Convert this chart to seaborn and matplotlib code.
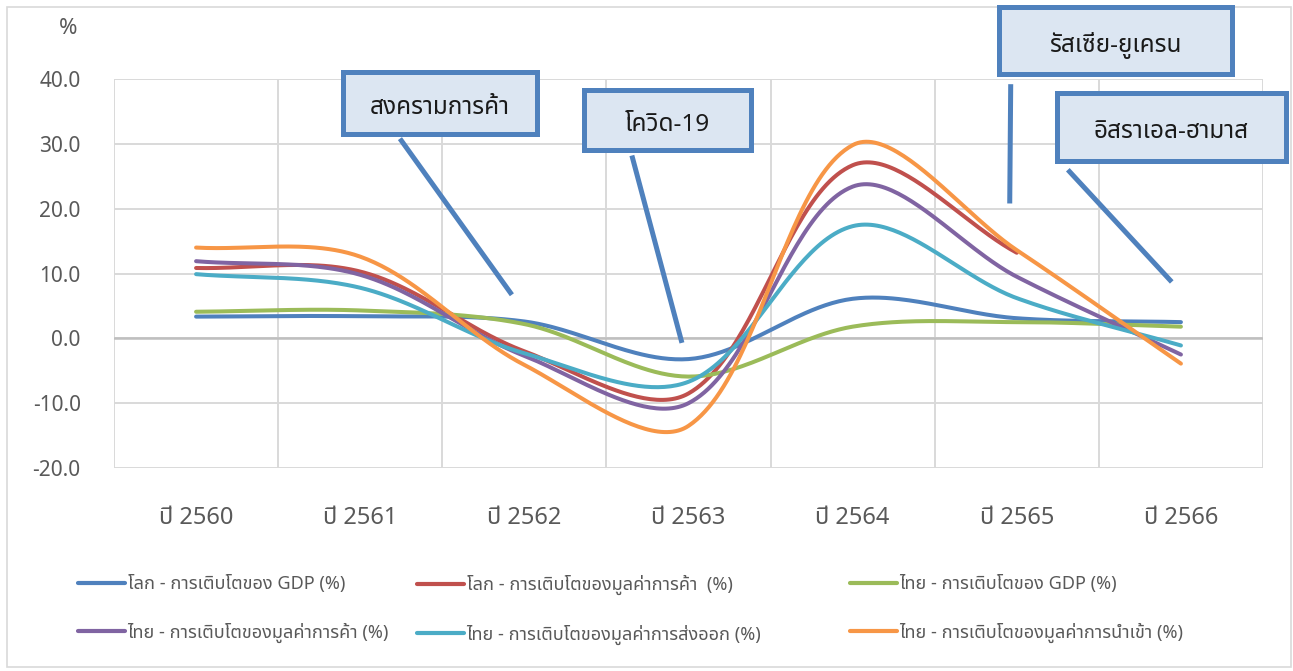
import numpy as np
import pandas as pd
import matplotlib
matplotlib.use("Agg")
import matplotlib.pyplot as plt
import seaborn as sns
from matplotlib.lines import Line2D
from matplotlib.patches import Rectangle

# ---------------- data ----------------
years = ["ปี 2560", "ปี 2561", "ปี 2562", "ปี 2563", "ปี 2564", "ปี 2565", "ปี 2566"]
world_gdp = [3.35, 3.4, 2.6, -3.2, 6.1, 3.1, 2.5]
world_trade = [10.85, 10.3, -2.0, -8.5, 26.7, 13.2, np.nan]
thai_gdp = [4.1, 4.3, 2.2, -5.9, 1.8, 2.5, 1.8]
thai_trade = [11.9, 9.8, -2.7, -10.0, 23.4, 9.5, -2.5]
thai_export = [9.9, 7.8, -2.3, -6.7, 17.3, 6.2, -1.1]
thai_import = [14.0, 12.6, -4.1, -13.5, 29.8, 13.6, -3.9]

labels = [
    "โลก - การเติบโตของ GDP (%)",
    "โลก - การเติบโตของมูลค่าการค้า  (%)",
    "ไทย - การเติบโตของ GDP (%)",
    "ไทย - การเติบโตของมูลค่าการค้า (%)",
    "ไทย - การเติบโตของมูลค่าการส่งออก (%)",
    "ไทย - การเติบโตของมูลค่าการนำเข้า (%)",
]
series = [world_gdp, world_trade, thai_gdp, thai_trade, thai_export, thai_import]
colors = ["#4f81bd", "#c0504d", "#9bbb59", "#8064a2", "#4bacc6", "#f79646"]

events = ["สงครามการค้า", "โควิด-19", "รัสเซีย-ยูเครน", "อิสราเอล-ฮามาส"]

# ---------------- style ----------------
sns.set_theme(style="white")
plt.rcParams["font.family"] = ["Noto Sans Thai", "Noto Sans", "DejaVu Sans"]
TXT = "#595959"

W, H = 1293, 671
fig = plt.figure(figsize=(W / 100, H / 100), dpi=100)
ax = fig.add_axes([114 / W, 1 - 468 / H, (1263 - 114) / W, (468 - 79) / H])

# pixel size of one x unit / one y unit (used only for the smoothing shape)
SX, SY = 164.2, 6.47


def smooth(xv, yv, n=50):
    """Excel-like smoothed line: Bezier segments, tangent scaled by chord lengths."""
    P = np.column_stack([xv, yv]).astype(float)
    m = len(P)
    scale = np.array([SX, SY])

    def dist(a, b):
        return float(np.hypot(*((a - b) * scale)))

    fwd, bwd = [], []
    for i in range(m):
        pp = P[max(i - 1, 0)]
        pn = P[min(i + 1, m - 1)]
        T = pn - pp
        dp = dist(P[i], pp)
        dn = dist(pn, P[i])
        tot = dp + dn if dp + dn > 0 else 1.0
        fwd.append(P[i] + T * dn / tot / 3.0)
        bwd.append(P[i] - T * dp / tot / 3.0)
    xs, ys = [], []
    t = np.linspace(0, 1, n)[:, None]
    for i in range(m - 1):
        p1, c1, c2, p2 = P[i], fwd[i], bwd[i + 1], P[i + 1]
        pts = ((1 - t) ** 3) * p1 + 3 * ((1 - t) ** 2) * t * c1 + 3 * (1 - t) * t ** 2 * c2 + t ** 3 * p2
        xs.extend(pts[:, 0])
        ys.extend(pts[:, 1])
    return np.array(xs), np.array(ys)


x_idx = np.arange(len(years))
for vals, col in zip(series, colors):
    v = np.array(vals, dtype=float)
    ok = ~np.isnan(v)
    sx, sy = smooth(x_idx[ok].astype(float), v[ok])
    df = pd.DataFrame({"x": sx, "y": sy})
    sns.lineplot(data=df, x="x", y="y", ax=ax, color=col, lw=2.9, sort=False,
                 estimator=None, solid_capstyle="round", legend=False)

# axes / grid
ax.set_xlim(-0.5, len(years) - 0.5)
ax.set_ylim(-20, 40)
ax.set_yticks(np.arange(-20, 41, 10))
ax.set_yticklabels([f"{v:.1f}" for v in np.arange(-20, 41, 10)])
ax.set_xticks(x_idx)
ax.set_xticklabels(years)
ax.set_xticks(np.arange(-0.5, len(years), 1.0), minor=True)
ax.set_xlabel("")
ax.set_ylabel("")
for s in ax.spines.values():
    s.set_visible(False)
ax.grid(False)
ax.grid(True, axis="y", which="major", color="#d9d9d9", lw=1.4)
ax.grid(True, axis="x", which="minor", color="#d9d9d9", lw=1.4)
ax.axhline(0, color="#bfbfbf", lw=1.8, zorder=1)
ax.set_axisbelow(True)
ax.tick_params(axis="both", which="both", length=0)
ax.tick_params(axis="y", labelsize=15, labelcolor=TXT, pad=24)
ax.tick_params(axis="x", labelsize=17, labelcolor=TXT, pad=27)

fig.text(68 / W, 1 - 28 / H, "%", fontsize=16, color=TXT, ha="center", va="center")

# outer border
fig.patches.append(Rectangle((7 / W, 1 - 667 / H), (1291 - 7) / W, (667 - 7) / H,
                             transform=fig.transFigure, fill=False, ec="#d9d9d9", lw=1.2))

# callouts (boxes in figure pixels, pointers in data units)
boxes = [(343, 72, 537, 134), (584, 90, 751, 150), (999, 7, 1232, 74), (1057, 93, 1286, 161)]
pointers = [((1.242, 30.8), (1.924, 6.72)),
            ((2.655, 28.2), (2.96, -0.7)),
            ((4.963, 39.2), (4.957, 20.8)),
            ((5.311, 26.0), (5.944, 8.7))]
for name, (x0, y0, x1, y1), (pa, pb) in zip(events, boxes, pointers):
    fig.patches.append(Rectangle((x0 / W, 1 - y1 / H), (x1 - x0) / W, (y1 - y0) / H,
                                 transform=fig.transFigure, fc="#dce6f2", ec="#4f81bd",
                                 lw=3.6, zorder=5))
    fig.text((x0 + x1) / 2 / W, 1 - ((y0 + y1) / 2 + 5) / H, name, fontsize=17.5,
             color="#1a1a1a", ha="center", va="center", zorder=6)
    ax.plot([pa[0], pb[0]], [pa[1], pb[1]], color="#4f81bd", lw=3.6, clip_on=False,
            solid_capstyle="butt", zorder=4)

# legend: three columns
col_x = [78, 417, 850]
for c in range(3):
    idxs = [c, c + 3]
    handles = [Line2D([], [], color=colors[i], lw=3) for i in idxs]
    fig.legend(handles, [labels[i] for i in idxs], loc="upper left",
               bbox_to_anchor=(col_x[c] / W, 1 - 575 / H), frameon=False,
               fontsize=13, handlelength=2.6, handletextpad=0.15,
               labelspacing=1.63, borderpad=0, borderaxespad=0, labelcolor=TXT)

fig.savefig("out.png", dpi=100, facecolor="white")
